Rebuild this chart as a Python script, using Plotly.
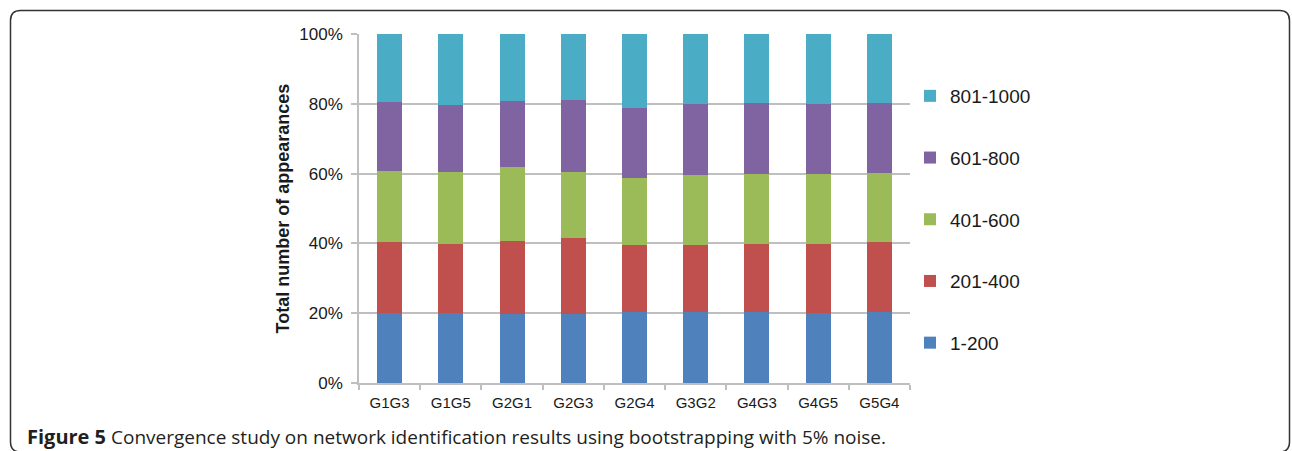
import plotly.graph_objects as go

categories = ["G1G3", "G1G5", "G2G1", "G2G3", "G2G4", "G3G2", "G4G3", "G4G5", "G5G4"]
series_names = ["1-200", "201-400", "401-600", "601-800", "801-1000"]
s_1_200 = [20.2, 20.2, 19.7, 19.9, 20.3, 20.3, 20.3, 20.2, 20.3]
s_201_400 = [20.1, 19.6, 21.1, 21.7, 19.1, 19.1, 19.5, 19.6, 20.0]
s_401_600 = [20.5, 20.6, 21.1, 19.0, 19.2, 20.1, 20.0, 20.2, 20.0]
s_601_800 = [19.8, 19.4, 19.0, 20.5, 20.3, 20.4, 20.3, 19.9, 19.8]
s_801_1000 = [19.4, 20.2, 19.1, 18.9, 21.1, 20.1, 19.9, 20.1, 19.9]
y_ticks = [0, 20, 40, 60, 80, 100]
y_tick_labels = ["0%", "20%", "40%", "60%", "80%", "100%"]
colors = ["#4F81BD", "#C0504D", "#9BBB59", "#8064A2", "#4BACC6"]
caption_bold = "Figure 5"
caption_rest = " Convergence study on network identification results using bootstrapping with 5% noise."

values = [s_1_200, s_201_400, s_401_600, s_601_800, s_801_1000]

W, H = 1292, 451
L, R = 359, 910
T, B = 34, 383

def px(x):
    return (x - L) / (R - L)

def py(y):
    return (B - y) / (B - T)

fig = go.Figure()
n = len(series_names)
for i, (name, vals, col) in enumerate(zip(series_names, values, colors)):
    fig.add_trace(go.Bar(
        x=categories, y=vals, name=name, legendgroup=name,
        legendrank=n - i,
        marker=dict(color=col, line=dict(width=0)),
    ))

# rounded border
x0, x1, y0, y1 = 10.5, 1289.5, 10.5, 452.0
r = 10
path = (
    f"M{px(x0+r)},{py(y0)} L{px(x1-r)},{py(y0)} Q{px(x1)},{py(y0)} {px(x1)},{py(y0+r)} "
    f"L{px(x1)},{py(y1-r)} Q{px(x1)},{py(y1)} {px(x1-r)},{py(y1)} "
    f"L{px(x0+r)},{py(y1)} Q{px(x0)},{py(y1)} {px(x0)},{py(y1-r)} "
    f"L{px(x0)},{py(y0+r)} Q{px(x0)},{py(y0)} {px(x0+r)},{py(y0)} Z"
)

fig.update_layout(
    width=W, height=H,
    margin=dict(l=L, r=W - R, t=T, b=H - B, pad=0),
    barmode="stack",
    bargap=0.59,
    plot_bgcolor="white",
    paper_bgcolor="white",
    font=dict(family="Liberation Sans, Arial, sans-serif", size=16, color="#1a1a1a"),
    showlegend=True,
    legend=dict(
        x=px(910), xanchor="left", y=py(77), yanchor="top",
        traceorder="grouped", tracegroupgap=34,
        font=dict(size=19, color="#1a1a1a"),
        bgcolor="rgba(0,0,0,0)",
    ),
    xaxis=dict(
        showgrid=False, showline=True, linecolor="#BFBFBF", linewidth=1.5,
        ticks="outside", tickson="boundaries", ticklen=5, tickcolor="#BFBFBF",
        tickwidth=1.5, ticklabelstandoff=5,
        tickfont=dict(size=15, color="#1a1a1a"),
    ),
    yaxis=dict(
        range=[0, 100], tickvals=y_ticks, ticktext=y_tick_labels,
        showgrid=True, gridcolor="#BFBFBF", gridwidth=1.5,
        showline=True, linecolor="#BFBFBF", linewidth=1.5,
        ticks="outside", ticklen=6, tickcolor="#BFBFBF", tickwidth=1.5,
        ticklabelstandoff=5,
        tickfont=dict(size=17, color="#1a1a1a"),
        title=dict(text="<b>Total number of appearances</b>", standoff=5,
                   font=dict(size=18, color="#1a1a1a")),
        zeroline=False,
    ),
    shapes=[dict(type="path", path=path, xref="paper", yref="paper",
                 line=dict(color="#333333", width=1.5), fillcolor="rgba(0,0,0,0)")],
    annotations=[dict(
        text=f"<b><span style='font-size:20px'>{caption_bold}</span></b>{caption_rest}",
        xref="paper", yref="paper", x=px(25), y=py(437),
        xanchor="left", yanchor="middle", showarrow=False,
        font=dict(family="Open Sans, Noto Sans, sans-serif", size=19, color="#231F20"),
    )],
)

fig.write_html("out.html", config={"displayModeBar": False},
               post_script="document.body.style.margin='0';")
